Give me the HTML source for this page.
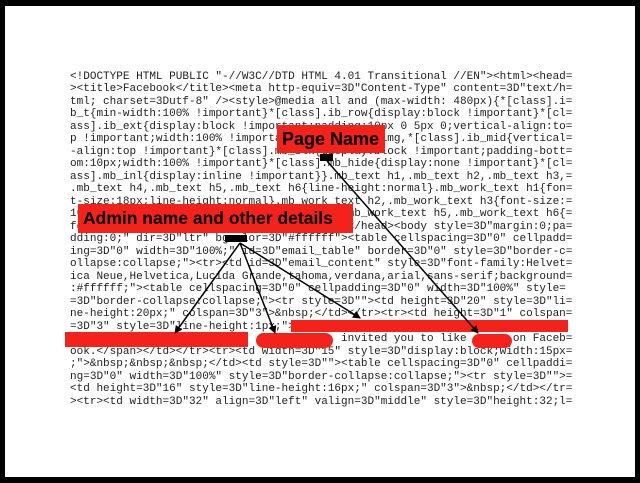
<!DOCTYPE html>
<html><head><style>
html,body{margin:0;padding:0}
body{width:640px;height:483px;position:relative;overflow:hidden;background:#fff}
.frame{position:absolute;left:0;top:0;width:640px;height:483px;box-sizing:border-box;border-style:solid;border-color:#000;border-width:6px 5px 6px 5px}
pre{position:absolute;left:70px;top:70.5px;margin:0;font-family:"Liberation Mono",monospace;font-size:11.03px;line-height:12.5px;color:#222}
.r{position:absolute;background:#f5221b}
.lbl{position:absolute;background:#f5221b;font-family:"Liberation Sans",sans-serif;font-weight:bold;color:#000;box-sizing:border-box;white-space:nowrap;line-height:1}
.b{position:absolute;background:#000}
svg{position:absolute;left:0;top:0}
</style></head><body>
<div class="frame"></div>
<pre>&lt;!DOCTYPE HTML PUBLIC "-//W3C//DTD HTML 4.01 Transitional //EN"&gt;&lt;html&gt;&lt;head=
&gt;&lt;title&gt;Facebook&lt;/title&gt;&lt;meta http-equiv=3D"Content-Type" content=3D"text/h=
tml; charset=3Dutf-8" /&gt;&lt;style&gt;@media all and (max-width: 480px){*[class].i=
b_t{min-width:100% !important}*[class].ib_row{display:block !important}*[cl=
ass].ib_ext{display:block !important;padding:10px 0 5px 0;vertical-align:to=
p !important;width:100% !important}*[class].ib_img,*[class].ib_mid{vertical=
-align:top !important}*[class].mb_blk{display:block !important;padding-bott=
om:10px;width:100% !important}*[class].mb_hide{display:none !important}*[cl=
ass].mb_inl{display:inline !important}}.mb_text h1,.mb_text h2,.mb_text h3,=
.mb_text h4,.mb_text h5,.mb_text h6{line-height:normal}.mb_work_text h1{fon=
t-size:18px;line-height:normal}.mb_work_text h2,.mb_work_text h3{font-size:=
16px;line-height:normal}.mb_work_text h4,.mb_work_text h5,.mb_work_text h6{=
font-size:14px;line-height:normal}&lt;/style&gt;&lt;/head&gt;&lt;body style=3D"margin:0;pa=
dding:0;" dir=3D"ltr" bgcolor=3D"#ffffff"&gt;&lt;table cellspacing=3D"0" cellpadd=
ing=3D"0" width=3D"100%;" id=3D"email_table" border=3D"0" style=3D"border-c=
ollapse:collapse;"&gt;&lt;tr&gt;&lt;td id=3D"email_content" style=3D"font-family:Helvet=
ica Neue,Helvetica,Lucida Grande,tahoma,verdana,arial,sans-serif;background=
:#ffffff;"&gt;&lt;table cellspacing=3D"0" cellpadding=3D"0" width=3D"100%" style=
=3D"border-collapse:collapse;"&gt;&lt;tr style=3D""&gt;&lt;td height=3D"20" style=3D"li=
ne-height:20px;" colspan=3D"3"&gt;&amp;nbsp;&lt;/td&gt;&lt;/tr&gt;&lt;tr&gt;&lt;td height=3D"1" colspan=
=3D"3" style=3D"line-height:1px;"&gt;&lt;span style=3D"color:#FFFFFF;font-size:=
                          &gt;              invited you to like       on Faceb=
ook.&lt;/span&gt;&lt;/td&gt;&lt;/tr&gt;&lt;tr&gt;&lt;td width=3D"15" style=3D"display:block;width:15px=
;"&gt;&amp;nbsp;&amp;nbsp;&amp;nbsp;&lt;/td&gt;&lt;td style=3D""&gt;&lt;table cellspacing=3D"0" cellpaddi=
ng=3D"0" width=3D"100%" style=3D"border-collapse:collapse;"&gt;&lt;tr style=3D""&gt;=
&lt;td height=3D"16" style=3D"line-height:16px;" colspan=3D"3"&gt;&amp;nbsp;&lt;/td&gt;&lt;/tr=
&gt;&lt;tr&gt;&lt;td width=3D"32" align=3D"left" valign=3D"middle" style=3D"height:32;l=</pre>
<div class="r" style="left:65px;top:332px;width:183px;height:15px"></div>
<div class="r" style="left:256px;top:333px;width:77px;height:15px;border-radius:8px"></div>
<div class="r" style="left:291px;top:320px;width:277px;height:12px"></div>
<div class="r" style="left:472px;top:334px;width:40px;height:14px;border-radius:7px"></div>
<div class="lbl" style="left:277px;top:125px;width:108px;height:28px;font-size:18px;padding:5px 0 0 5px">Page Name</div>
<div class="lbl" style="left:78px;top:204px;width:275px;height:29px;font-size:17.5px;padding:6px 0 0 5px">Admin name and other details</div>
<div class="b" style="left:320px;top:154px;width:13px;height:7px"></div>
<div class="b" style="left:225px;top:235px;width:22px;height:7px"></div>
<svg width="640" height="483">
<defs><marker id="a" markerWidth="8" markerHeight="8" refX="7" refY="4" orient="auto" markerUnits="userSpaceOnUse"><path d="M0,0 L8,4 L0,8 z" fill="#000"/></marker></defs>
<g stroke="#000" stroke-width="1.5" fill="none" marker-end="url(#a)">
<line x1="327" y1="161" x2="478" y2="333"/>
<line x1="240" y1="243" x2="175" y2="333"/>
<line x1="240" y1="243" x2="275" y2="333"/>
<line x1="240" y1="243" x2="360" y2="318"/>
</g></svg>
</body></html>
